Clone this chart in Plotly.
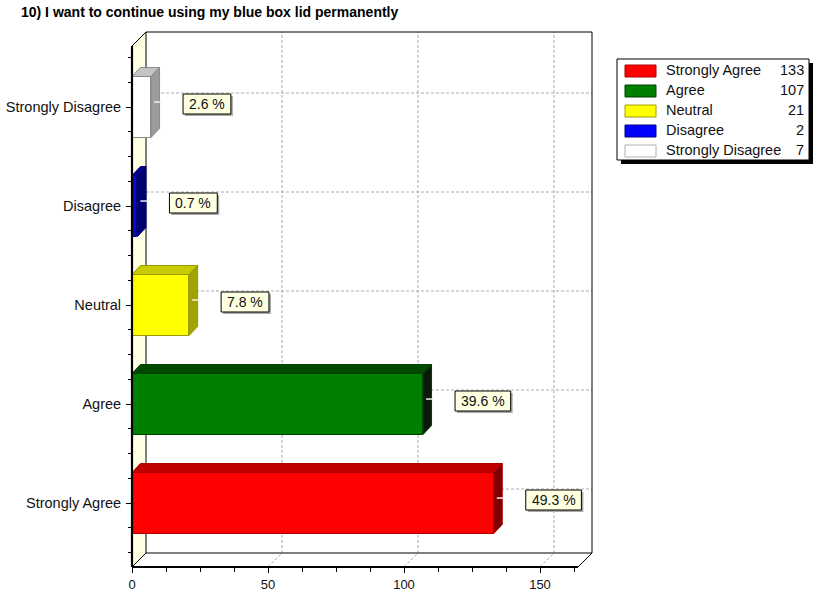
import plotly.graph_objects as go

# ---- data -------------------------------------------------------------
TITLE = "10) I want to continue using my blue box lid permanently"
CATEGORIES = ["Strongly Agree", "Agree", "Neutral", "Disagree", "Strongly Disagree"]
COUNTS = [133, 107, 21, 2, 7]
X_TICKS = [0, 50, 100, 150]
X_MINOR = [12.5, 25, 37.5, 62.5, 75, 87.5, 112.5, 125, 137.5, 162.5]

FRONT_COLORS = ["#FF0000", "#008000", "#FFFF00", "#0A0ACD", "#FFFFFF"]
TOP_COLORS = ["#BE0000", "#004A00", "#CACA00", "#00008A", "#C4C4C4"]
SIDE_COLORS = ["#7E0000", "#0B1A0B", "#A2A200", "#000070", "#9C9C9C"]
EDGE_COLORS = ["#B00000", "#004000", "#9A9A00", "#000080", "#8A8A8A"]
LEGEND_COLORS = ["#FF0000", "#008000", "#FFFF00", "#0000FF", "#FFFFFF"]
LEGEND_EDGES = ["#B00000", "#004000", "#A0A000", "#000080", "#B0B0B0"]

# ---- geometry of the pseudo-3D frame ------------------------------------
W, H = 814, 595
PX_PER_UNIT = 2.72          # horizontal scale of the value axis
X0_PX = 132                 # pixel column of value 0 on the front plane
CAT0_PX = 503               # pixel row of the first category (front plane)
CAT_STEP_PX = 99            # distance between categories


def ux(px):
    return (px - X0_PX) / PX_PER_UNIT


def uy(py):
    return (CAT0_PX - py) / CAT_STEP_PX


def pxp(px):
    return px / W


def pyp(py):
    return 1 - py / H


WALL_DX = 14 / PX_PER_UNIT
WALL_DY = 14 / CAT_STEP_PX
BAR_DX = 8.5 / PX_PER_UNIT
BAR_DY = 9 / CAT_STEP_PX
BAR_W = 61 / CAT_STEP_PX

X_FRONT_MAX = ux(578)
Y_FRONT_BOT = uy(567)
Y_FRONT_TOP = uy(46)
X_BACK_MIN, X_BACK_MAX = WALL_DX, X_FRONT_MAX + WALL_DX
Y_BACK_BOT, Y_BACK_TOP = Y_FRONT_BOT + WALL_DY, Y_FRONT_TOP + WALL_DY

TOTAL = sum(COUNTS)
idx = list(range(len(CATEGORIES)))

FONT = "Liberation Sans, Arial, sans-serif"
TXT = "#111111"
GRID = dict(color="#ABABAB", width=1, dash="3px,2px")
LABEL_SIZE = 14
# approximate advance widths (px) of the label glyphs at LABEL_SIZE
GLYPH_W = {".": 3.9, " ": 3.9, "%": 12.45}


def text_width(s):
    return sum(GLYPH_W.get(c, 7.79) for c in s)


fig = go.Figure()

# front faces of the bars
fig.add_trace(go.Bar(
    x=COUNTS, y=idx, orientation="h", width=BAR_W, base=0,
    marker=dict(color=FRONT_COLORS, line=dict(color=EDGE_COLORS, width=1)),
    hoverinfo="skip", showlegend=False,
))

# top and side faces giving the bars their depth
for i, v in enumerate(COUNTS):
    h = BAR_W / 2
    fig.add_trace(go.Scatter(
        x=[0, v, v + BAR_DX, BAR_DX, 0],
        y=[i + h, i + h, i + h + BAR_DY, i + h + BAR_DY, i + h],
        mode="lines", fill="toself", fillcolor=TOP_COLORS[i],
        line=dict(color=EDGE_COLORS[i], width=1),
        hoverinfo="skip", showlegend=False,
    ))
    fig.add_trace(go.Scatter(
        x=[v, v + BAR_DX, v + BAR_DX, v, v],
        y=[i - h, i - h + BAR_DY, i + h + BAR_DY, i + h, i - h],
        mode="lines", fill="toself", fillcolor=SIDE_COLORS[i],
        line=dict(color=EDGE_COLORS[i], width=1),
        hoverinfo="skip", showlegend=False,
    ))

# small connector ticks from each bar towards its label
cx, cy = [], []
for i, v in enumerate(COUNTS):
    cx += [v + BAR_DX * 0.35, v + BAR_DX + 0.9, None]
    cy += [i + 0.05, i + 0.05, None]
fig.add_trace(go.Scatter(x=cx, y=cy, mode="lines",
                         line=dict(color="#F0F0F0", width=1.5),
                         hoverinfo="skip", showlegend=False))

shapes = []
# left wall
shapes.append(dict(
    type="path", xref="x", yref="y", layer="below",
    path=(f"M 0 {Y_FRONT_BOT} L {X_BACK_MIN} {Y_BACK_BOT} "
          f"L {X_BACK_MIN} {Y_BACK_TOP} L 0 {Y_FRONT_TOP} Z"),
    fillcolor="#FFFFE3", line=dict(width=0),
))
# back-wall grid and floor lines
for t in X_TICKS[1:]:
    shapes.append(dict(type="line", xref="x", yref="y", layer="below",
                       x0=t + WALL_DX, x1=t + WALL_DX, y0=Y_BACK_BOT, y1=Y_BACK_TOP,
                       line=GRID))
    shapes.append(dict(type="line", xref="x", yref="y", layer="below",
                       x0=t, x1=t + WALL_DX, y0=Y_FRONT_BOT, y1=Y_BACK_BOT,
                       line=GRID))
for i in idx:
    shapes.append(dict(type="line", xref="x", yref="y", layer="below",
                       x0=X_BACK_MIN, x1=X_BACK_MAX, y0=i + WALL_DY, y1=i + WALL_DY,
                       line=GRID))

thin = dict(color="#000000", width=1)
edges = [
    (X_BACK_MIN, Y_BACK_TOP, X_BACK_MAX, Y_BACK_TOP),
    (X_BACK_MAX, Y_BACK_TOP, X_BACK_MAX, Y_BACK_BOT),
    (X_BACK_MIN, Y_BACK_BOT, X_BACK_MAX, Y_BACK_BOT),
    (X_BACK_MIN, Y_BACK_BOT, X_BACK_MIN, Y_BACK_TOP),
    (0, Y_FRONT_TOP, X_BACK_MIN, Y_BACK_TOP),
    (0, Y_FRONT_BOT, X_BACK_MIN, Y_BACK_BOT),
    (X_FRONT_MAX, Y_FRONT_BOT, X_BACK_MAX, Y_BACK_BOT),
]
for x0, y0, x1, y1 in edges:
    shapes.append(dict(type="line", xref="x", yref="y", layer="below",
                       x0=x0, y0=y0, x1=x1, y1=y1, line=thin))
# front axes (drawn over the bar bases)
thick = dict(color="#000000", width=2.2)
shapes.append(dict(type="line", xref="x", yref="y", layer="above",
                   x0=0, x1=0, y0=Y_FRONT_BOT, y1=Y_FRONT_TOP, line=thick))
shapes.append(dict(type="line", xref="x", yref="y", layer="above",
                   x0=0, x1=X_FRONT_MAX, y0=Y_FRONT_BOT, y1=Y_FRONT_BOT, line=thick))

annotations = []

# percentage labels: boxed, with a grey drop shadow
LABEL_GAP = 32      # px between the bar end and the label box
LABEL_LIFT = 3      # px the label sits above the bar centre
LABEL_HALF_H = 10
for i, v in enumerate(COUNTS):
    label = f"{v / TOTAL * 100:.1f} %"
    bw = text_width(label) + 12
    shapes.append(dict(type="rect", xref="x", yref="y", layer="above",
                       xsizemode="pixel", ysizemode="pixel", xanchor=v, yanchor=i,
                       x0=LABEL_GAP + 2, x1=LABEL_GAP + 2 + bw,
                       y0=LABEL_LIFT - LABEL_HALF_H - 2, y1=LABEL_LIFT + LABEL_HALF_H - 2,
                       fillcolor="#A8A8A8", line=dict(width=0)))
    shapes.append(dict(type="rect", xref="x", yref="y", layer="above",
                       xsizemode="pixel", ysizemode="pixel", xanchor=v, yanchor=i,
                       x0=LABEL_GAP, x1=LABEL_GAP + bw,
                       y0=LABEL_LIFT - LABEL_HALF_H, y1=LABEL_LIFT + LABEL_HALF_H,
                       fillcolor="#FFFFE1", line=dict(color="#000000", width=1)))
    annotations.append(dict(x=v, y=i, xref="x", yref="y", xanchor="center",
                            yanchor="middle", xshift=LABEL_GAP + bw / 2, yshift=LABEL_LIFT,
                            text=label, showarrow=False,
                            font=dict(family=FONT, size=LABEL_SIZE, color=TXT)))

# legend box with shadow
LG_L, LG_T, LG_R, LG_B = 617, 59, 809, 160
shapes.append(dict(type="rect", xref="paper", yref="paper", layer="above",
                   x0=pxp(LG_L + 4), x1=pxp(LG_R + 4), y0=pyp(LG_T + 4), y1=pyp(LG_B + 4),
                   fillcolor="#000000", line=dict(width=0)))
shapes.append(dict(type="rect", xref="paper", yref="paper", layer="above",
                   x0=pxp(LG_L), x1=pxp(LG_R), y0=pyp(LG_T), y1=pyp(LG_B),
                   fillcolor="#FFFFFF", line=dict(color="#000000", width=1)))

for k, (name, cnt) in enumerate(zip(CATEGORIES, COUNTS)):
    yc = 71 + 20 * k
    shapes.append(dict(type="rect", xref="paper", yref="paper", layer="above",
                       x0=pxp(625), x1=pxp(656), y0=pyp(yc - 6), y1=pyp(yc + 6),
                       fillcolor=LEGEND_COLORS[k], line=dict(color=LEGEND_EDGES[k], width=1)))
    annotations.append(dict(xref="paper", yref="paper", x=pxp(664), y=pyp(yc - 1),
                            xanchor="left", yanchor="middle", text=name, showarrow=False,
                            font=dict(family=FONT, size=14.5, color=TXT)))
    annotations.append(dict(xref="paper", yref="paper", x=pxp(806), y=pyp(yc - 1),
                            xanchor="right", yanchor="middle", text=str(cnt), showarrow=False,
                            font=dict(family=FONT, size=14.5, color=TXT)))

annotations.append(dict(xref="paper", yref="paper", x=pxp(19), y=pyp(12),
                        xanchor="left", yanchor="middle", showarrow=False,
                        text=f"<b>{TITLE}</b>",
                        font=dict(family=FONT, size=14, color="#000000")))

y_minor = [k / 4 for k in range(-2, 19) if k % 4 != 0]

fig.update_layout(
    template="none",
    width=W, height=H,
    margin=dict(l=0, r=0, t=0, b=0, pad=0),
    paper_bgcolor="#FFFFFF", plot_bgcolor="#FFFFFF",
    showlegend=False,
    bargap=0,
    shapes=shapes,
    annotations=annotations,
    xaxis=dict(
        range=[ux(0), ux(W)], anchor="free", position=pyp(567),
        showgrid=False, zeroline=False, showline=False,
        tickmode="array", tickvals=X_TICKS, ticktext=[str(t) for t in X_TICKS],
        ticks="outside", ticklen=5, tickwidth=1, tickcolor="#000000",
        tickfont=dict(family=FONT, size=13, color=TXT),
        minor=dict(tickmode="array", tickvals=X_MINOR, ticks="outside",
                   ticklen=4, tickwidth=1, tickcolor="#000000", showgrid=False),
        fixedrange=True,
    ),
    yaxis=dict(
        range=[uy(H), uy(0)], anchor="free", position=pxp(X0_PX),
        showgrid=False, zeroline=False, showline=False,
        tickmode="array", tickvals=idx, ticktext=CATEGORIES,
        ticks="outside", ticklen=6, tickwidth=1, tickcolor="#000000",
        ticklabelstandoff=2,
        tickfont=dict(family=FONT, size=14.5, color=TXT),
        minor=dict(tickmode="array", tickvals=y_minor, ticks="outside",
                   ticklen=4, tickwidth=1, tickcolor="#000000", showgrid=False),
        fixedrange=True,
    ),
)

fig.write_html("out.html", config={"displayModeBar": False})
